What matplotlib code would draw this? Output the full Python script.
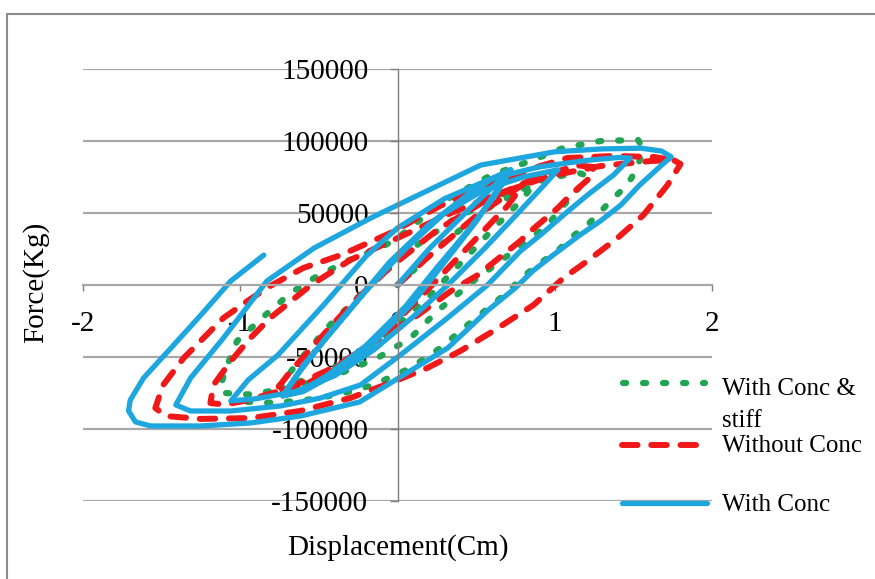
import matplotlib
matplotlib.use('Agg')
import matplotlib.pyplot as plt
from matplotlib.lines import Line2D
from matplotlib.patches import Rectangle

plt.rcParams['font.family'] = ['Liberation Serif', 'DejaVu Serif']
plt.rcParams['axes.unicode_minus'] = False

# hysteresis paths: displacement (cm), force (kg)
conc_x = [0, 0.2, 0.45, 0.72,
          0.62, 0.45, 0.25, 0.05, -0.2, -0.45, -0.62, -0.73,
          -0.62, -0.45, -0.25, -0.05, 0.2, 0.45, 0.62, 0.72,
          0.62, 0.5, 0.3, 0.1, -0.15, -0.4, -0.6, -0.73,
          -0.6, -0.4, -0.2, 0.05, 0.3, 0.55, 0.8, 1.02,
          0.92, 0.75, 0.55, 0.32, 0.1, -0.15, -0.4, -0.65, -0.9, -1.06,
          -0.95, -0.76, -0.47, -0.2, 0, 0.3, 0.6, 0.9, 1.2, 1.4, 1.48,
          1.374, 1.208, 1.056, 0.909, 0.782, 0.572, 0.318, 0.019, -0.235, -0.49, -0.744, -1.062, -1.316, -1.41,
          -1.316, -1.107, -0.83, -0.53, -0.17, 0, 0.53, 1.0, 1.3, 1.55, 1.68, 1.74,
          1.68, 1.54, 1.42, 1.29, 1.16, 0.99, 0.86, 0.75, 0.57, 0.32, 0.08, -0.24, -0.617, -0.935, -1.253, -1.571, -1.666, -1.71, -1.70,
          -1.615, -1.44, -1.25, -1.06, -0.85]
conc_y = [0, 25000, 52000, 80000,
          62000, 38000, 12000, -15000, -42000, -63000, -74000, -77000,
          -60000, -36000, -10000, 16000, 42000, 63000, 75000, 80000,
          64000, 44000, 16000, -12000, -40000, -62000, -74000, -77000,
          -56000, -30000, -4000, 25000, 50000, 66000, 75000, 80000,
          68000, 48000, 25000, 0, -22000, -45000, -63000, -74000, -79000, -80500,
          -66000, -48600, -13900, 20000, 39600, 60000, 74000, 82000, 86500, 88500, 88200,
          76400, 62500, 48600, 34700, 23600, 0, -22900, -48600, -69400, -78500, -84000, -87500, -87500, -83300,
          -64600, -36800, 2800, 25700, 46500, 55500, 83300, 92500, 94500, 95000, 93000, 89000,
          83300, 69400, 55500, 44400, 34700, 20800, 9700, -2000, -18000, -43700, -59700, -81200, -91000, -95800, -97900, -97900, -95100, -87500, -80000,
          -64600, -43700, -20800, 2800, 20800]

noconc_x = [0, 0.2, 0.5, 0.8,
            0.7, 0.55, 0.35, 0.15, -0.1, -0.35, -0.6, -0.78,
            -0.68, -0.5, -0.3, -0.05, 0.25, 0.55, 0.85, 1.05, 1.15, 1.24, 1.25,
            1.1, 1.02, 0.87, 0.78, 0.51, 0.34, 0.13, -0.11, -0.4, -0.7, -0.95, -1.1, -1.19,
            -1.17, -1.06, -0.935, -0.81, -0.55, -0.3, 0, 0.34, 0.655, 0.97, 1.29, 1.61, 1.755, 1.80,
            1.717, 1.564, 1.399, 1.208, 1.056, 0.865, 0.61, 0.40, 0.19, 0, -0.3, -0.62, -0.93, -1.25, -1.475, -1.54,
            -1.49, -1.36, -1.107, -0.954, -0.81, -0.6, -0.36, -0.045, 0.27, 0.64, 0.865, 1.08, 1.37, 1.63, 1.74]
noconc_y = [0, 20000, 48000, 70000,
            55000, 38000, 15000, -8000, -35000, -55000, -70000, -74000,
            -60000, -38000, -14000, 12000, 38000, 58000, 73000, 80000, 83000, 82000, 77000,
            62500, 53500, 39600, 30500, 6900, -4200, -20800, -36800, -57000, -72000, -80000, -83000, -82000,
            -69400, -52800, -36800, -22900, 0, 17400, 32600, 50000, 63900, 75700, 82600, 86100, 86800, 84000,
            69400, 48600, 32600, 16700, 4900, -13900, -31900, -45800, -57600, -66000, -78500, -87500, -92400, -93000, -91000, -85400,
            -69400, -50700, -22900, -11100, -700, 11800, 20800, 36100, 54900, 72200, 81200, 88200, 89600, 88900, 87000]

stiff_x = [0, 0.3, 0.6, 0.87,
           0.78, 0.6, 0.4, 0.2, -0.05, -0.3, -0.55, -0.75,
           -0.62, -0.45, -0.22, 0.05, 0.35, 0.65, 0.95, 1.15, 1.2,
           1.164, 1.08, 0.954, 0.827, 0.655, 0.483, 0.254, 0.083, -0.127, -0.4, -0.7, -0.95, -1.10, -1.13,
           -1.09, -1.02, -0.84, -0.68, -0.53, -0.32, -0.11, 0, 0.29, 0.59, 0.865, 1.05, 1.29, 1.53, 1.56,
           1.526, 1.46, 1.374, 1.208, 1.10, 1.017, 0.909, 0.827, 0.655, 0.445, 0.273, 0.083, -0.153, -0.36, -0.617, -0.87, -1.06]
stiff_y = [0, 30000, 55000, 70000,
           58000, 38000, 15000, -8000, -33000, -52000, -65000, -70000,
           -52000, -30000, -5000, 22000, 45000, 62000, 74000, 78000, 76000,
           68700, 58300, 41700, 30500, 16700, 2800, -18000, -36800, -50700, -63000, -72000, -76000, -75000, -72000,
           -57600, -38900, -20800, -5600, 4900, 16700, 25700, 32600, 58000, 76000, 87000, 95000, 100000, 100700, 95000,
           81200, 69400, 60400, 41700, 32600, 23600, 15300, 8300, -9000, -27800, -43700, -57600, -69400, -75700, -80500, -82000, -80000]

x_ticks = [-2, -1, 0, 1, 2]
y_ticks = [-150000, -100000, -50000, 0, 50000, 100000, 150000]

labels = ['With Conc &\nstiff', 'Without Conc', 'With Conc']

BLUE = '#1ea7df'
RED = '#f01818'
GREEN = '#22a455'
DOTS = (0.5, 2.7)
DASHES = (2.6, 2.3)

fig = plt.figure(figsize=(8.75, 5.79), dpi=100)
ax = fig.add_axes([83 / 875, 1 - 501 / 579, 629 / 875, 432 / 579])

# horizontal grid under the curves
for yv in y_ticks:
    if yv != 0:
        ax.axhline(yv, color='#a8a8a8', lw=1.6, zorder=0.5)

ax.plot(stiff_x, stiff_y, color=GREEN, lw=4.5, dashes=DOTS,
        dash_capstyle='round', zorder=2)
ax.plot(noconc_x, noconc_y, color=RED, lw=4.3, dashes=DASHES,
        dash_capstyle='round', zorder=2.1)
ax.plot(conc_x, conc_y, color=BLUE, lw=3.8, solid_capstyle='round',
        solid_joinstyle='round', zorder=2.2)

ax.set_xlim(-2, 2)
ax.set_ylim(-150000, 150000)
ax.set_facecolor('none')

ax.spines['top'].set_visible(False)
ax.spines['right'].set_visible(False)
ax.spines['left'].set_position(('data', 0))
ax.spines['bottom'].set_position(('data', 0))
ax.spines['left'].set_color('#7f7f7f')
ax.spines['left'].set_linewidth(1)
ax.spines['bottom'].set_color('#a8a8a8')
ax.spines['bottom'].set_linewidth(1.6)

ax.set_xticks(x_ticks)
ax.set_xticklabels([str(v) for v in x_ticks])
ax.set_yticks(y_ticks)
ax.set_yticklabels([str(v) for v in y_ticks])
ax.tick_params(axis='x', direction='out', length=4.5, width=1, color='#7f7f7f',
               pad=14, labelsize=21)
ax.tick_params(axis='y', direction='out', length=6, width=1, color='#7f7f7f',
               pad=15, labelsize=21)

fig.text(398 / 875, 1 - 548 / 579, 'Displacement(Cm)', ha='center', va='center',
         fontsize=21)
fig.text(36 / 875, 1 - 282 / 579, 'Force(Kg)', ha='center', va='center',
         rotation=90, fontsize=21)

# legend drawn by hand on the right
leg_y = [1 - 383 / 579, 1 - 445 / 579, 1 - 503 / 579]
fig.add_artist(Line2D([623 / 875, 705 / 875], [leg_y[0]] * 2, color=GREEN, lw=4.5,
                      dashes=DOTS, dash_capstyle='round'))
fig.add_artist(Line2D([622 / 875, 707 / 875], [leg_y[1]] * 2, color=RED, lw=4.3,
                      dashes=DASHES, dash_capstyle='round'))
fig.add_artist(Line2D([622 / 875, 707 / 875], [leg_y[2]] * 2, color=BLUE, lw=3.8,
                      solid_capstyle='round'))
fig.text(722 / 875, 1 - 389 / 579, 'With Conc &', va='center', fontsize=18)
fig.text(722 / 875, 1 - 421 / 579, 'stiff', va='center', fontsize=18)
fig.text(722 / 875, 1 - 446 / 579, labels[1], va='center', fontsize=18)
fig.text(722 / 875, 1 - 505 / 579, labels[2], va='center', fontsize=18)

fig.add_artist(Rectangle((7 / 875, -0.05), 1.2, 1.05 - 14 / 579, transform=fig.transFigure,
                         fill=False, ec='#8c8c8c', lw=1.5))

fig.savefig('out.png', dpi=100)
